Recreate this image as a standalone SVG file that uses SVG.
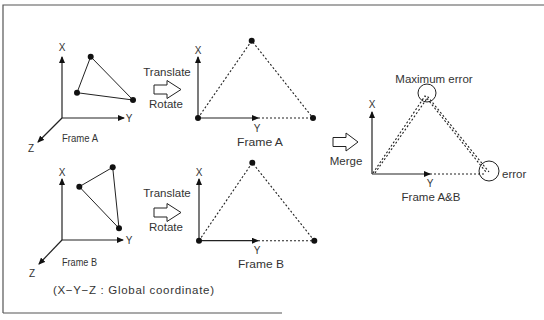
<svg xmlns="http://www.w3.org/2000/svg" width="544" height="320" viewBox="0 0 544 320">
<defs>
<marker id="ah" markerUnits="userSpaceOnUse" markerWidth="7" markerHeight="6" refX="6" refY="3" orient="auto">
<path d="M0,0 L7,3 L0,6 Z" fill="#111"/>
</marker>
<style>
text{font-family:"Liberation Sans",Arial,sans-serif;fill:#333;}
.t{font-size:11.5px;}
.s{font-size:10px;}
.ax{stroke:#222;stroke-width:1.2;fill:none;}
.ln{stroke:#222;stroke-width:1;fill:none;}
.dl{stroke:#222;stroke-width:1.1;stroke-dasharray:2 2;fill:none;}
.dot{fill:#111;}
.ho{fill:#fff;stroke:#222;stroke-width:1;}
.c{fill:none;stroke:#222;stroke-width:1;}
</style>
</defs>
<rect width="544" height="320" fill="#fff"/>
<g id="border">
<path d="M3,313 L3,5 L544,5" fill="none" stroke="#555" stroke-width="1.2"/>
<line x1="3" y1="313" x2="282" y2="313" stroke="#555" stroke-width="1.2"/>
</g>

<g id="frameA">
<line class="ax" x1="62" y1="118" x2="62" y2="57" marker-end="url(#ah)"/>
<line class="ax" x1="62" y1="118" x2="124" y2="118" marker-end="url(#ah)"/>
<line class="ax" x1="62" y1="118" x2="38" y2="142" marker-end="url(#ah)"/>
<text x="62" y="51" class="s" text-anchor="middle" font-size="11">X</text>
<text x="129" y="122" class="s" text-anchor="middle" font-size="11">Y</text>
<text x="31" y="152" class="s" text-anchor="middle" font-size="11">Z</text>
<polygon class="ln" points="90.7,56.7 77,92.7 133,100"/>
<circle class="dot" cx="90.7" cy="56.7" r="3"/>
<circle class="dot" cx="77" cy="92.7" r="3"/>
<circle class="dot" cx="133" cy="100" r="3"/>
<text x="62" y="142" font-size="11" textLength="36" lengthAdjust="spacingAndGlyphs">Frame A</text>
</g>

<g id="opA">
<text x="167" y="76" class="t" text-anchor="middle">Translate</text>
<polygon class="ho" points="154,85 167,85 167,80.5 181,89.5 167,98.5 167,94 154,94"/>
<text x="166" y="108" class="t" text-anchor="middle">Rotate</text>
</g>

<g id="frameA2">
<line class="ax" x1="198" y1="118" x2="198" y2="57" marker-end="url(#ah)"/>
<line class="ax" x1="198" y1="118" x2="258" y2="118" marker-end="url(#ah)"/>
<line class="dl" x1="258" y1="118" x2="313" y2="118"/>
<polyline class="dl" points="198,118 251.7,40.7 313,118"/>
<circle class="dot" cx="198" cy="118" r="3"/>
<circle class="dot" cx="251.7" cy="40.7" r="3"/>
<circle class="dot" cx="313" cy="118" r="3"/>
<text x="198" y="54" class="s" text-anchor="middle">X</text>
<text x="257" y="132" class="s" text-anchor="middle">Y</text>
<text x="260" y="146" class="t" text-anchor="middle" font-size="11" textLength="46" lengthAdjust="spacingAndGlyphs">Frame A</text>
</g>

<g id="frameB">
<line class="ax" x1="62" y1="240" x2="62" y2="179" marker-end="url(#ah)"/>
<line class="ax" x1="62" y1="240" x2="123" y2="240" marker-end="url(#ah)"/>
<line class="ax" x1="62" y1="240" x2="39" y2="264" marker-end="url(#ah)"/>
<text x="62" y="176" class="s" text-anchor="middle" font-size="11">X</text>
<text x="129" y="244" class="s" text-anchor="middle" font-size="11">Y</text>
<text x="32" y="277" class="s" text-anchor="middle" font-size="11">Z</text>
<polygon class="ln" points="112.7,167.3 79.3,186.7 119,228.3"/>
<circle class="dot" cx="112.7" cy="167.3" r="3"/>
<circle class="dot" cx="79.3" cy="186.7" r="3"/>
<circle class="dot" cx="119" cy="228.3" r="3"/>
<text x="62" y="266" font-size="11" textLength="35" lengthAdjust="spacingAndGlyphs">Frame B</text>
<text x="53" y="294" class="t" textLength="161" lengthAdjust="spacing">(X−Y−Z : Global coordinate)</text>
</g>

<g id="opB">
<text x="167" y="197" class="t" text-anchor="middle">Translate</text>
<polygon class="ho" points="154,208 167,208 167,203.5 181,212.5 167,221.5 167,217 154,217"/>
<text x="166" y="231" class="t" text-anchor="middle">Rotate</text>
</g>

<g id="frameB2">
<line class="ax" x1="199" y1="240.7" x2="199" y2="179" marker-end="url(#ah)"/>
<line class="ax" x1="199" y1="240.7" x2="258" y2="240.7" marker-end="url(#ah)"/>
<line class="dl" x1="258" y1="240.7" x2="314.3" y2="240.7"/>
<polyline class="dl" points="199,240.7 252.3,162.7 314.3,240.7"/>
<circle class="dot" cx="199" cy="240.7" r="3"/>
<circle class="dot" cx="252.3" cy="162.7" r="3"/>
<circle class="dot" cx="314.3" cy="240.7" r="3"/>
<text x="199" y="176" class="s" text-anchor="middle">X</text>
<text x="257" y="254" class="s" text-anchor="middle">Y</text>
<text x="261" y="268" class="t" text-anchor="middle" font-size="11" textLength="46" lengthAdjust="spacingAndGlyphs">Frame B</text>
</g>

<g id="merge">
<polygon class="ho" points="333,137.5 346,137.5 346,133 358,142 346,151 346,146.5 333,146.5"/>
<text x="346" y="165" class="t" text-anchor="middle">Merge</text>
</g>

<g id="frameAB">
<line class="ax" x1="372" y1="174" x2="372" y2="112" marker-end="url(#ah)"/>
<line class="ax" x1="372" y1="174" x2="430" y2="174" marker-end="url(#ah)"/>
<line class="dl" x1="430" y1="174" x2="486" y2="174"/>
<polyline class="dl" points="373,173 425,96 486,172"/>
<polyline class="dl" points="375,173 428,97 489,172"/>
<circle class="c" cx="427" cy="93" r="9"/>
<circle class="c" cx="489" cy="171" r="10"/>
<text x="372" y="108" class="s" text-anchor="middle">X</text>
<text x="430" y="187" class="s" text-anchor="middle">Y</text>
<text x="431" y="201" class="t" text-anchor="middle">Frame A&amp;B</text>
<text x="434" y="83" class="t" text-anchor="middle">Maximum error</text>
<text x="502" y="178" class="t">error</text>
</g>
</svg>
